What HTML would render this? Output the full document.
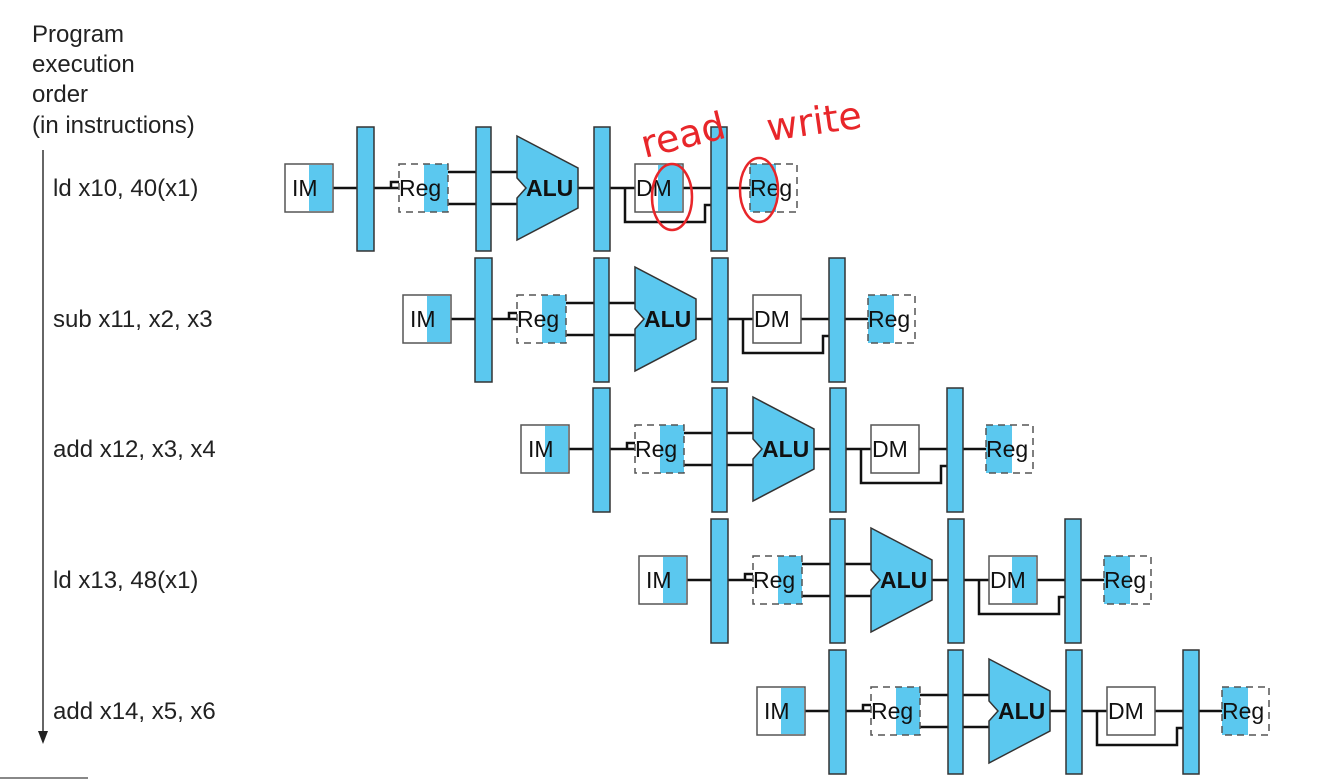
<!DOCTYPE html>
<html><head><meta charset="utf-8"><style>
html,body{margin:0;padding:0;background:#fff}
svg{display:block}
text{font-family:"Liberation Sans",Arial,sans-serif}
.t{font-size:24px;fill:#222}
.b{fill:#5bc8ef;stroke:#333;stroke-width:1.5}
.w{fill:none;stroke:#111;stroke-width:2.5}
.box{fill:#fff;stroke:#555;stroke-width:1.5}
.dash{fill:none;stroke:#555;stroke-width:1.5;stroke-dasharray:7 5}
.bl{fill:#5bc8ef;stroke:none}
.lab{font-size:23px;fill:#111}
.alu{font-size:23px;font-weight:bold;fill:#111}
.red{fill:none;stroke:#e8262a;stroke-width:2.5}
.hw{font-family:"DejaVu Sans",sans-serif;font-size:38px;fill:#e8262a}
</style></head><body>
<svg width="1328" height="782" viewBox="0 0 1328 782" xmlns="http://www.w3.org/2000/svg">
<text class="t" x="32" y="42">Program</text>
<text class="t" x="32" y="72">execution</text>
<text class="t" x="32" y="102">order</text>
<text class="t" x="32" y="133">(in instructions)</text>
<line x1="43" y1="150" x2="43" y2="732" stroke="#666" stroke-width="2"/>
<polygon points="38,731 48,731 43,744" fill="#222"/>
<line x1="0" y1="778" x2="88" y2="778" stroke="#888" stroke-width="2"/>
<text class="t" x="53" y="196">ld x10, 40(x1)</text>
<text class="t" x="53" y="327">sub x11, x2, x3</text>
<text class="t" x="53" y="457">add x12, x3, x4</text>
<text class="t" x="53" y="588">ld x13, 48(x1)</text>
<text class="t" x="53" y="719">add x14, x5, x6</text>

<g transform="translate(285,188)">
<line class="w" x1="48" y1="0" x2="114" y2="0"/><path class="w" d="M106,1 v-7 h8" stroke-width="1.5"/>
<line class="w" x1="163" y1="-16" x2="232" y2="-16"/><line class="w" x1="163" y1="16" x2="232" y2="16"/>
<line class="w" x1="293" y1="0" x2="350" y2="0"/><line class="w" x1="398" y1="0" x2="465" y2="0"/>
<path class="w" d="M340,0 V34 H420 V17 H428"/>
<rect class="box" x="0" y="-24" width="48" height="48"/><rect class="bl" x="24" y="-23" width="23" height="46"/><text class="lab" x="7" y="8">IM</text>
<rect class="b" x="72" y="-61" width="17" height="124"/>
<rect class="bl" x="139" y="-24" width="24" height="48"/><rect class="dash" x="114" y="-24" width="49" height="48"/><text class="lab" x="114" y="8">Reg</text>
<rect class="b" x="191" y="-61" width="15" height="124"/>
<polygon class="b" points="232,-52 293,-20 293,20 232,52 232,10 241,0 232,-10"/><text class="alu" x="241" y="8">ALU</text>
<rect class="b" x="309" y="-61" width="16" height="124"/>
<rect class="box" x="350" y="-24" width="48" height="48"/><rect class="bl" x="373" y="-23" width="24" height="46"/><text class="lab" x="351" y="8">DM</text>
<rect class="b" x="426" y="-61" width="16" height="124"/>
<rect class="bl" x="465" y="-24" width="26" height="48"/><rect class="dash" x="465" y="-24" width="47" height="48"/><text class="lab" x="465" y="8">Reg</text>
</g>

<g transform="translate(403,319)">
<line class="w" x1="48" y1="0" x2="114" y2="0"/><path class="w" d="M106,1 v-7 h8" stroke-width="1.5"/>
<line class="w" x1="163" y1="-16" x2="232" y2="-16"/><line class="w" x1="163" y1="16" x2="232" y2="16"/>
<line class="w" x1="293" y1="0" x2="350" y2="0"/><line class="w" x1="398" y1="0" x2="465" y2="0"/>
<path class="w" d="M340,0 V34 H420 V17 H428"/>
<rect class="box" x="0" y="-24" width="48" height="48"/><rect class="bl" x="24" y="-23" width="23" height="46"/><text class="lab" x="7" y="8">IM</text>
<rect class="b" x="72" y="-61" width="17" height="124"/>
<rect class="bl" x="139" y="-24" width="24" height="48"/><rect class="dash" x="114" y="-24" width="49" height="48"/><text class="lab" x="114" y="8">Reg</text>
<rect class="b" x="191" y="-61" width="15" height="124"/>
<polygon class="b" points="232,-52 293,-20 293,20 232,52 232,10 241,0 232,-10"/><text class="alu" x="241" y="8">ALU</text>
<rect class="b" x="309" y="-61" width="16" height="124"/>
<rect class="box" x="350" y="-24" width="48" height="48"/><text class="lab" x="351" y="8">DM</text>
<rect class="b" x="426" y="-61" width="16" height="124"/>
<rect class="bl" x="465" y="-24" width="26" height="48"/><rect class="dash" x="465" y="-24" width="47" height="48"/><text class="lab" x="465" y="8">Reg</text>
</g>

<g transform="translate(521,449)">
<line class="w" x1="48" y1="0" x2="114" y2="0"/><path class="w" d="M106,1 v-7 h8" stroke-width="1.5"/>
<line class="w" x1="163" y1="-16" x2="232" y2="-16"/><line class="w" x1="163" y1="16" x2="232" y2="16"/>
<line class="w" x1="293" y1="0" x2="350" y2="0"/><line class="w" x1="398" y1="0" x2="465" y2="0"/>
<path class="w" d="M340,0 V34 H420 V17 H428"/>
<rect class="box" x="0" y="-24" width="48" height="48"/><rect class="bl" x="24" y="-23" width="23" height="46"/><text class="lab" x="7" y="8">IM</text>
<rect class="b" x="72" y="-61" width="17" height="124"/>
<rect class="bl" x="139" y="-24" width="24" height="48"/><rect class="dash" x="114" y="-24" width="49" height="48"/><text class="lab" x="114" y="8">Reg</text>
<rect class="b" x="191" y="-61" width="15" height="124"/>
<polygon class="b" points="232,-52 293,-20 293,20 232,52 232,10 241,0 232,-10"/><text class="alu" x="241" y="8">ALU</text>
<rect class="b" x="309" y="-61" width="16" height="124"/>
<rect class="box" x="350" y="-24" width="48" height="48"/><text class="lab" x="351" y="8">DM</text>
<rect class="b" x="426" y="-61" width="16" height="124"/>
<rect class="bl" x="465" y="-24" width="26" height="48"/><rect class="dash" x="465" y="-24" width="47" height="48"/><text class="lab" x="465" y="8">Reg</text>
</g>

<g transform="translate(639,580)">
<line class="w" x1="48" y1="0" x2="114" y2="0"/><path class="w" d="M106,1 v-7 h8" stroke-width="1.5"/>
<line class="w" x1="163" y1="-16" x2="232" y2="-16"/><line class="w" x1="163" y1="16" x2="232" y2="16"/>
<line class="w" x1="293" y1="0" x2="350" y2="0"/><line class="w" x1="398" y1="0" x2="465" y2="0"/>
<path class="w" d="M340,0 V34 H420 V17 H428"/>
<rect class="box" x="0" y="-24" width="48" height="48"/><rect class="bl" x="24" y="-23" width="23" height="46"/><text class="lab" x="7" y="8">IM</text>
<rect class="b" x="72" y="-61" width="17" height="124"/>
<rect class="bl" x="139" y="-24" width="24" height="48"/><rect class="dash" x="114" y="-24" width="49" height="48"/><text class="lab" x="114" y="8">Reg</text>
<rect class="b" x="191" y="-61" width="15" height="124"/>
<polygon class="b" points="232,-52 293,-20 293,20 232,52 232,10 241,0 232,-10"/><text class="alu" x="241" y="8">ALU</text>
<rect class="b" x="309" y="-61" width="16" height="124"/>
<rect class="box" x="350" y="-24" width="48" height="48"/><rect class="bl" x="373" y="-23" width="24" height="46"/><text class="lab" x="351" y="8">DM</text>
<rect class="b" x="426" y="-61" width="16" height="124"/>
<rect class="bl" x="465" y="-24" width="26" height="48"/><rect class="dash" x="465" y="-24" width="47" height="48"/><text class="lab" x="465" y="8">Reg</text>
</g>

<g transform="translate(757,711)">
<line class="w" x1="48" y1="0" x2="114" y2="0"/><path class="w" d="M106,1 v-7 h8" stroke-width="1.5"/>
<line class="w" x1="163" y1="-16" x2="232" y2="-16"/><line class="w" x1="163" y1="16" x2="232" y2="16"/>
<line class="w" x1="293" y1="0" x2="350" y2="0"/><line class="w" x1="398" y1="0" x2="465" y2="0"/>
<path class="w" d="M340,0 V34 H420 V17 H428"/>
<rect class="box" x="0" y="-24" width="48" height="48"/><rect class="bl" x="24" y="-23" width="23" height="46"/><text class="lab" x="7" y="8">IM</text>
<rect class="b" x="72" y="-61" width="17" height="124"/>
<rect class="bl" x="139" y="-24" width="24" height="48"/><rect class="dash" x="114" y="-24" width="49" height="48"/><text class="lab" x="114" y="8">Reg</text>
<rect class="b" x="191" y="-61" width="15" height="124"/>
<polygon class="b" points="232,-52 293,-20 293,20 232,52 232,10 241,0 232,-10"/><text class="alu" x="241" y="8">ALU</text>
<rect class="b" x="309" y="-61" width="16" height="124"/>
<rect class="box" x="350" y="-24" width="48" height="48"/><text class="lab" x="351" y="8">DM</text>
<rect class="b" x="426" y="-61" width="16" height="124"/>
<rect class="bl" x="465" y="-24" width="26" height="48"/><rect class="dash" x="465" y="-24" width="47" height="48"/><text class="lab" x="465" y="8">Reg</text>
</g>

<text class="hw" x="640" y="150" transform="rotate(-14 675 135)">read</text>
<text class="hw" x="766" y="135" transform="rotate(-8 810 120)">write</text>
<ellipse class="red" cx="672" cy="197" rx="20" ry="33"/>
<ellipse class="red" cx="759" cy="190" rx="19" ry="32"/>
</svg>
</body></html>
